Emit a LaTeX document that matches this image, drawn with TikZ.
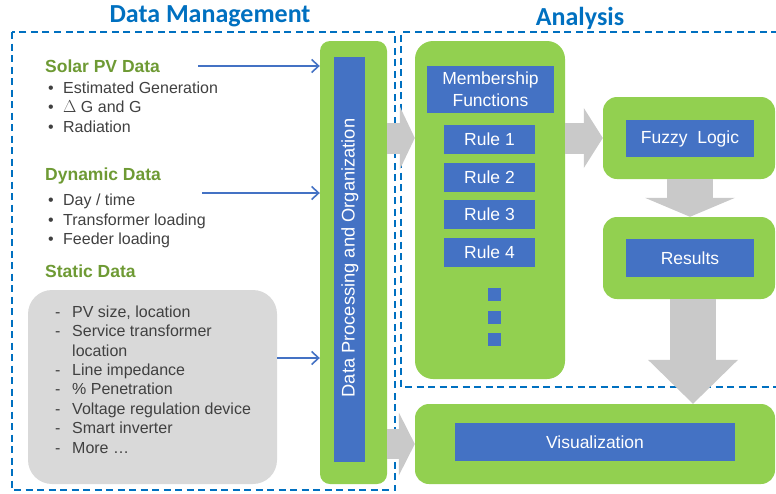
\documentclass[tikz,border=0pt]{standalone}
\usepackage{fontspec}
\setmainfont{Liberation Sans}
\newfontfamily\titlefont{Carlito}
\usetikzlibrary{arrows.meta,calc}

\definecolor{leafgreen}{HTML}{92D050}
\definecolor{boxblue}{HTML}{4472C4}
\definecolor{titleblue}{HTML}{0070C0}
\definecolor{headgreen}{HTML}{6E9A34}
\definecolor{bodygrey}{HTML}{404040}
\definecolor{flowgrey}{HTML}{C9C9C9}
\definecolor{panelgrey}{HTML}{D9D9D9}

\tikzset{
  greenbox/.style={fill=leafgreen, draw=none, rounded corners=14pt, inner sep=0pt},
  bluebox/.style={fill=boxblue, draw=none, text=white, inner sep=0pt, align=center,
    font=\fontsize{17.5}{22}\selectfont},
  dotbox/.style={fill=boxblue, draw=none, minimum width=13pt, minimum height=13pt, inner sep=0pt},
  title/.style={text=titleblue, font=\titlefont\bfseries\fontsize{26}{30}\selectfont, inner sep=0pt},
  heading/.style={text=headgreen, font=\bfseries\fontsize{17.5}{20}\selectfont, anchor=base west, inner sep=0pt},
  % multi-line lists are anchored at the baseline of their last line
  bodytext/.style={text=bodygrey, font=\fontsize{16}{19.45}\selectfont, anchor=base west,
    inner sep=0pt, align=left},
  zone/.style={draw=titleblue, line width=1.8pt, dash pattern=on 7pt off 4.5pt},
  feed/.style={draw=boxblue, line width=1.6pt, -{Straight Barb[length=7pt,width=13pt,line width=1.6pt]}},
  flow/.style={draw=flowgrey, line width=#1},
}

\begin{document}
\begin{tikzpicture}[x=1pt, y=-1pt]
\useasboundingbox (0,0) rectangle (776,493);

% section frames
\draw[zone] (12,32) rectangle (395,490);
\draw[zone] (778,32) -- (401,32) -- (401,387) -- (778,387);
\node[title] (dmtitle) at (210,16) {Data Management};
\node[title] (antitle) at (580,18) {Analysis};

% input data lists
\node[heading] (solar) at (45,72) {Solar PV Data};
\node[bodytext] (solarlist) at (48,132)
  {\makebox[15pt][l]{•}Estimated Generation\\
   \makebox[15pt][l]{•}$\Delta$ G and G\\
   \makebox[15pt][l]{•}Radiation};
\node[heading] (dynamic) at (45,180) {Dynamic Data};
\node[bodytext] (dynlist) at (48,244.5)
  {\makebox[15pt][l]{•}Day / time\\
   \makebox[15pt][l]{•}Transformer loading\\
   \makebox[15pt][l]{•}Feeder loading};
\node[heading] (static) at (45,277) {Static Data};

\node[fill=panelgrey, rounded corners=24pt, minimum width=249pt, minimum height=194pt, inner sep=0pt]
  (staticpanel) at (152.5,387) {};
\node[bodytext] (staticlist) at (55,453.3)
  {\makebox[17pt][l]{-}PV size, location\\
   \makebox[17pt][l]{-}Service transformer\\
   \makebox[17pt][l]{}location\\
   \makebox[17pt][l]{-}Line impedance\\
   \makebox[17pt][l]{-}\% Penetration\\
   \makebox[17pt][l]{-}Voltage regulation device\\
   \makebox[17pt][l]{-}Smart inverter\\
   \makebox[17pt][l]{-}More \ldots};

% data processing column
\node[greenbox, rounded corners=10pt, minimum width=67pt, minimum height=443pt] (dp) at (353.5,262.5) {};
\node[bluebox, minimum width=31pt, minimum height=405pt] (dpin) at (349.5,259.5) {};
\node[text=white, rotate=90, font=\fontsize{18.3}{20}\selectfont, inner sep=0pt] (dplabel) at (350,258)
  {Data Processing and Organization};

% inputs into processing
\coordinate (solarend) at (198,66);
\coordinate (dynend) at (202,193);
\draw[feed] (solarend) -- (dp.west |- solarend);
\draw[feed] (dynend) -- (dp.west |- dynend);
\draw[feed] (staticpanel.east |- 0,358) -- (dp.west |- 0,358);

% rule base
\node[greenbox, rounded corners=18pt, minimum width=150pt, minimum height=338pt] (rules) at (490,210) {};
\node[bluebox, minimum width=127pt, minimum height=47pt] (mf) at (490.5,89.5) {Membership\\Functions};
\node[bluebox, minimum width=91pt, minimum height=29pt] (r1) at (489.5,139.5) {Rule 1};
\node[bluebox, minimum width=91pt, minimum height=29pt] (r2) at (489.5,177) {Rule 2};
\node[bluebox, minimum width=91pt, minimum height=29pt] (r3) at (489.5,214.5) {Rule 3};
\node[bluebox, minimum width=91pt, minimum height=29pt] (r4) at (489.5,252) {Rule 4};
\node[dotbox] (d1) at (494.5,294) {};
\node[dotbox] (d2) at (494.5,317) {};
\node[dotbox] (d3) at (494.5,339) {};

% fuzzy logic and results
\node[greenbox, minimum width=172pt, minimum height=82pt] (fuzzy) at (689,138) {};
\node[bluebox, minimum width=128pt, minimum height=37pt] (fuzzyin) at (690,138.5) {Fuzzy\ \ Logic};
\node[greenbox, minimum width=172pt, minimum height=82pt] (results) at (689,258) {};
\node[bluebox, minimum width=128pt, minimum height=38pt] (resultsin) at (690,258) {Results};

% visualization
\node[greenbox, minimum width=360pt, minimum height=80pt] (vis) at (595,444) {};
\node[bluebox, minimum width=280pt, minimum height=38pt] (visin) at (595,442) {Visualization};

% process flow
\draw[flow=31pt, -{Triangle[length=15pt,width=63pt,line width=0pt]}]
  (dp.east |- 0,138) -- (rules.west |- 0,138);
\draw[flow=31pt, -{Triangle[length=19pt,width=60pt,line width=0pt]}]
  (rules.east |- 0,138) -- (fuzzy.west |- 0,138);
\draw[flow=46pt, -{Triangle[length=19pt,width=90pt,line width=0pt]}]
  (fuzzy.south -| 690,0) -- (results.north -| 690,0);
\draw[flow=46pt, -{Triangle[length=44pt,width=90pt,line width=0pt]}]
  (results.south -| 693,0) -- (vis.north -| 693,0);
\draw[flow=30pt, -{Triangle[length=16pt,width=63pt,line width=0pt]}]
  (dp.east |- 0,444) -- (vis.west |- 0,444);
\end{tikzpicture}
\end{document}
